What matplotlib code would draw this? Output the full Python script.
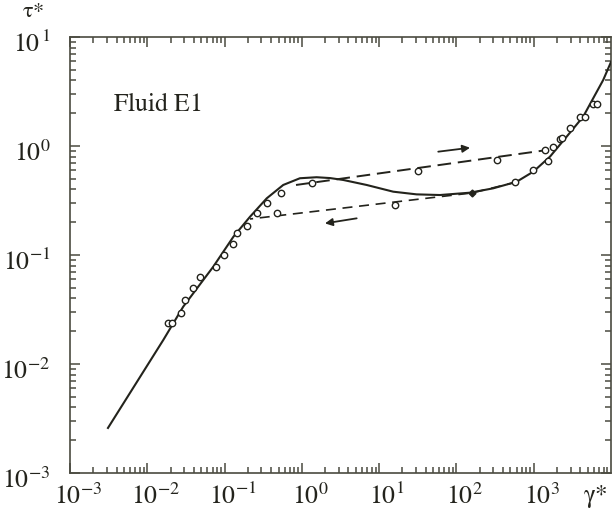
import numpy as np
import matplotlib
matplotlib.use("Agg")
import matplotlib.pyplot as plt
from matplotlib.ticker import LogLocator, NullFormatter, FixedLocator, FixedFormatter
from matplotlib.transforms import ScaledTranslation

# ---- data ----
curve_x = [3.1e-3, 0.0161, 0.0292, 0.0715, 0.130, 0.213, 0.351, 0.574, 0.944, 1.55, 2.31, 3.43,
           6.89, 15.2, 30.5, 61.2, 150, 299, 601, 986, 1622, 2665, 4369, 6000, 7925, 1.0e4]
curve_y = [2.59e-3, 0.0166, 0.0336, 0.0782, 0.147, 0.224, 0.331, 0.439, 0.506, 0.517, 0.508, 0.488,
           0.439, 0.381, 0.360, 0.355, 0.373, 0.409, 0.470, 0.581, 0.798, 1.217, 1.86, 2.81, 4.03, 5.9]

up_x = [0.84, 1483]
up_y = [0.439, 0.918]
down_x = [607, 159, 0.213]
down_y = [0.468, 0.371, 0.214]

pts_x = [0.0187, 0.0207, 0.0270, 0.0308, 0.0387, 0.0481, 0.0775, 0.0982, 0.127, 0.146,
         0.193, 0.265, 0.356, 0.532, 0.481, 1.34, 32.1, 16.0, 331, 571, 985, 1542,
         1396, 1787, 2183, 2296, 2938, 3963, 4592, 5888, 6512]
pts_y = [0.0239, 0.0236, 0.0296, 0.0387, 0.0494, 0.0632, 0.0771, 0.1, 0.126, 0.160,
         0.185, 0.241, 0.298, 0.373, 0.244, 0.455, 0.590, 0.288, 0.744, 0.470, 0.602, 0.733,
         0.918, 0.986, 1.15, 1.18, 1.45, 1.83, 1.83, 2.43, 2.43]
diamond_x = [157]
diamond_y = [0.373]

arrow_up = [(58.2, 0.887), (150, 0.964)]
arrow_down = [(5.12, 0.217), (1.99, 0.195)]

xtick_vals = [1e-3, 1e-2, 1e-1, 1e0, 1e1, 1e2, 1e3]
xtick_labels = [r'$10^{-3}$', r'$10^{-2}$', r'$10^{-1}$', r'$10^{0}$', r'$10^{1}$', r'$10^{2}$', r'$10^{3}$']
ytick_vals = [1e-3, 1e-2, 1e-1, 1e0, 1e1]
ytick_labels = [r'$10^{-3}$', r'$10^{-2}$', r'$10^{-1}$', r'$10^{0}$', r'$10^{\,1}$']

# ---- style ----
plt.rcParams['mathtext.fontset'] = 'stix'
plt.rcParams['font.family'] = ['STIXGeneral', 'Liberation Serif', 'DejaVu Serif']
ink = '#23231c'

fig = plt.figure(figsize=(6.14, 5.19), dpi=100)
ax = fig.add_axes([70/614, 46/519, 541/614, 436/519])
ax.set_xscale('log')
ax.set_yscale('log')
ax.set_xlim(1e-3, 1e4)
ax.set_ylim(1e-3, 1e1)

ax.plot(curve_x, curve_y, color=ink, lw=1.5, zorder=3)
ax.plot(up_x, up_y, color=ink, lw=1.4, dashes=(7, 3.5), zorder=3)
ax.plot(down_x, down_y, color=ink, lw=1.2, dashes=(6, 4), zorder=3)
ax.plot(pts_x, pts_y, linestyle='none', marker='o', ms=4.6, mfc='white', mec=ink, mew=1.0, zorder=4)
ax.plot(diamond_x, diamond_y, linestyle='none', marker='D', ms=3.5, mfc=ink, mec=ink, zorder=4)

for (a, b) in (arrow_up, arrow_down):
    ax.annotate('', xy=b, xytext=a,
                arrowprops=dict(arrowstyle='-|>', color=ink, lw=1.3,
                                mutation_scale=11, shrinkA=0, shrinkB=0))

ax.text(0.080, 0.845, r'$\mathrm{Fluid\ E1}$', transform=ax.transAxes, fontsize=18.5, color=ink,
        ha='left', va='center')

# ticks
for sp in ax.spines.values():
    sp.set_color('#4a4a40')
    sp.set_linewidth(1.2)
ax.xaxis.set_major_locator(FixedLocator(xtick_vals))
ax.xaxis.set_major_formatter(FixedFormatter(xtick_labels))
ax.yaxis.set_major_locator(FixedLocator(ytick_vals))
ax.yaxis.set_major_formatter(FixedFormatter(ytick_labels))
ax.xaxis.set_minor_locator(LogLocator(base=10, subs=np.arange(2, 10), numticks=100))
ax.yaxis.set_minor_locator(LogLocator(base=10, subs=np.arange(2, 10), numticks=100))
ax.xaxis.set_minor_formatter(NullFormatter())
ax.yaxis.set_minor_formatter(NullFormatter())
ax.tick_params(which='both', direction='in', top=True, right=True, color='#4a4a40', width=1.1)
ax.tick_params(which='major', length=7)
ax.tick_params(which='minor', length=4)
ax.tick_params(axis='x', which='major', labelsize=18.5, pad=8, labelcolor=ink)
ax.tick_params(axis='y', which='major', labelsize=18.5, pad=14, labelcolor=ink)

for lab in ax.get_xticklabels():
    lab.set_transform(lab.get_transform() + ScaledTranslation(8/100, 0, fig.dpi_scale_trans))
for lab in ax.get_yticklabels():
    lab.set_transform(lab.get_transform() + ScaledTranslation(0, -5/100, fig.dpi_scale_trans))

fig.text(22/614, 1 - 12/519, r'$\mathrm{\tau}$*', fontsize=16, color=ink, ha='left', va='center')
fig.text(583/614, 1 - 496/519, r'$\mathrm{\gamma}$*', fontsize=18, color=ink, ha='left', va='center')

fig.savefig('out.png', dpi=100)
